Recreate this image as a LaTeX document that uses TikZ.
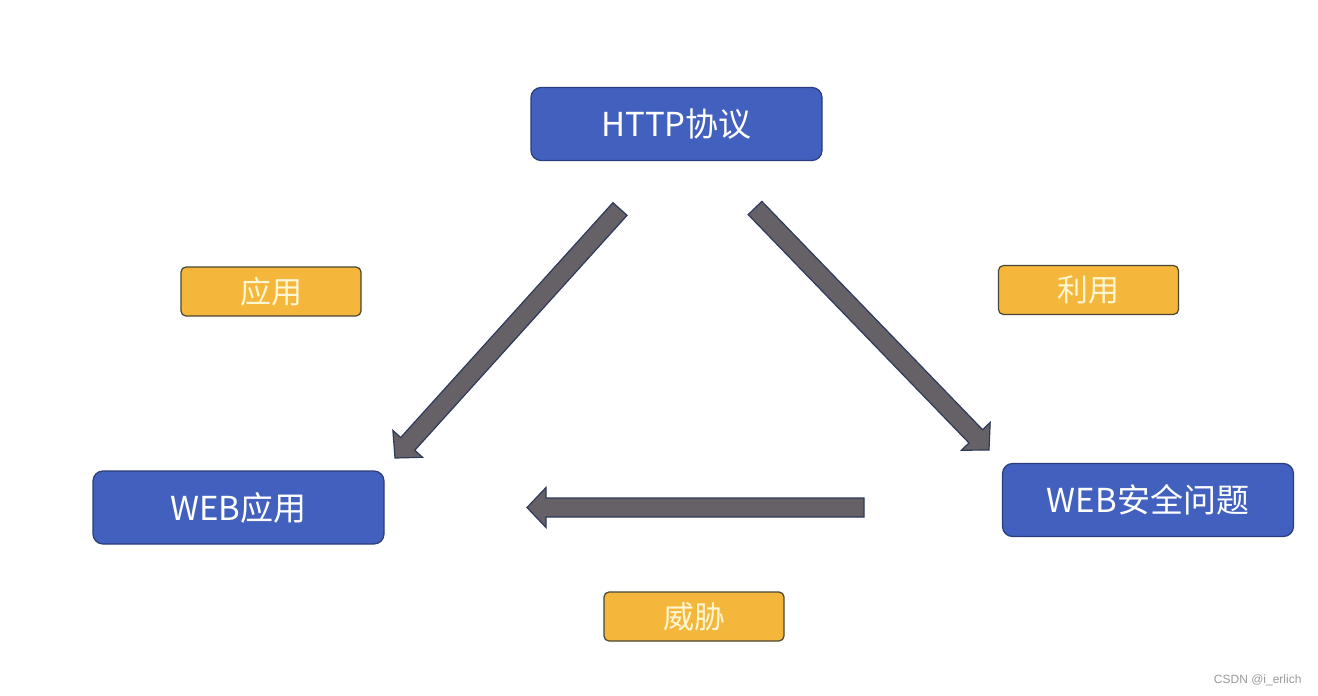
\documentclass[tikz,border=0pt]{standalone}
\usepackage{fontspec}
\newfontfamily\cjk{Noto Sans CJK SC}
\newfontfamily\wmfont{Liberation Sans}
\usetikzlibrary{calc}
\definecolor{boxblue}{HTML}{4261BF}
\definecolor{boxblueline}{HTML}{2C3C7C}
\definecolor{boxyellow}{HTML}{F4B73C}
\definecolor{boxyellowline}{HTML}{4A4636}
\definecolor{yellowtext}{HTML}{FFF6D2}
\definecolor{arrowgray}{HTML}{666166}
\definecolor{arrowline}{HTML}{2E3A5C}
\definecolor{wmgray}{HTML}{9A9A9A}
\tikzset{
  bluebox/.style={draw=boxblueline, line width=1.2pt, fill=boxblue, rounded corners=10pt,
    minimum width=291pt, minimum height=73pt, inner sep=0pt, text=white, font=\cjk\fontsize{33}{36}\selectfont},
  yellowbox/.style={draw=boxyellowline, line width=1.2pt, fill=boxyellow, rounded corners=5pt,
    minimum width=180pt, minimum height=49pt, inner sep=0pt, text=yellowtext, font=\cjk\fontsize{31}{34}\selectfont},
  blockarrow/.style={draw=arrowline, line width=1.2pt, fill=arrowgray, line join=miter}
}
\newcommand{\blkarrow}[2]{%
  \draw[blockarrow]
    ($(#1)!9.5pt!90:(#2)$) --
    ($($(#2)!19pt!(#1)$)!9.5pt!90:(#2)$) --
    ($($(#2)!19pt!(#1)$)!20pt!90:(#2)$) --
    (#2) --
    ($($(#2)!19pt!(#1)$)!20pt!-90:(#2)$) --
    ($($(#2)!19pt!(#1)$)!9.5pt!-90:(#2)$) --
    ($(#1)!9.5pt!-90:(#2)$) -- cycle;}
\begin{document}
\begin{tikzpicture}[x=1pt,y=-1pt]
\useasboundingbox[fill=white] (0,0) rectangle (1318,696);
% main boxes
\node[bluebox] (http) at (676.5,124) {HTTP协议};
\node[bluebox] (webapp) at (238.5,507.5) {WEB应用};
\node[bluebox] (websec) at (1148,500) {WEB安全问题};
% labels
\node[yellowbox] (lapp) at (271,291.5) {应用};
\node[yellowbox] (luse) at (1088.5,290) {利用};
\node[yellowbox] (lthreat) at (694,616.5) {威胁};
% arrow end points
\coordinate (a1s) at (620,209);
\coordinate (a1e) at (395,458);
\coordinate (a2s) at (755,208);
\coordinate (a2e) at (989,450);
\coordinate (a3s) at (864,507.5);
\coordinate (a3e) at (527,507.5);
\blkarrow{a1s}{a1e}
\blkarrow{a2s}{a2e}
\blkarrow{a3s}{a3e}
% watermark
\node[text=wmgray, font=\wmfont\fontsize{12}{14}\selectfont, anchor=east] (wm) at (1305,680) {CSDN @i\_erlich};
\end{tikzpicture}
\end{document}
